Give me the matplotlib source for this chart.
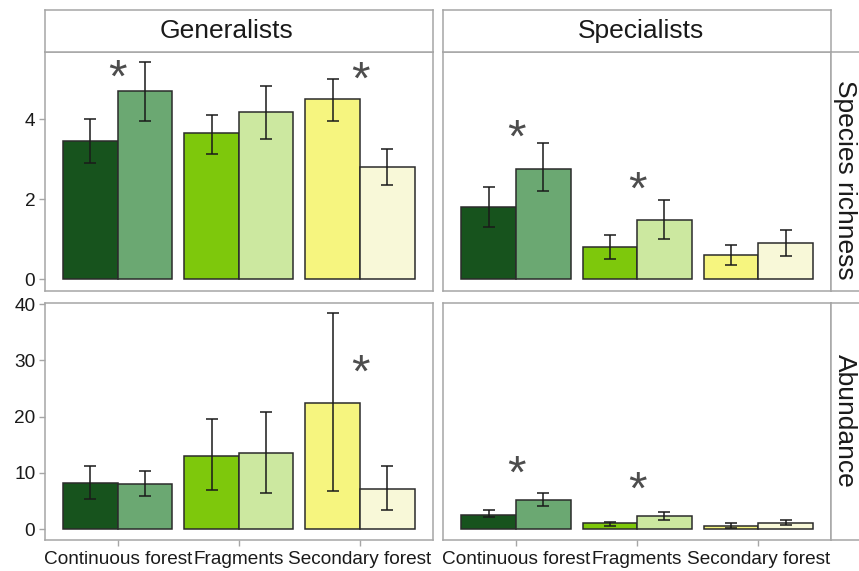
import matplotlib.pyplot as plt

plt.rcParams['font.family'] = ['Liberation Sans', 'DejaVu Sans']

# --- data ---
habitats = ['Continuous forest', 'Fragments', 'Secondary forest']
groups = ['Generalists', 'Specialists']
metrics = ['Species richness', 'Abundance']

# mean, lower, upper per habitat: [dark bar, light bar]
rich_gen_mean = [[3.46, 4.70], [3.65, 4.18], [4.51, 2.82]]
rich_gen_lo = [[2.92, 3.97], [3.14, 3.50], [3.97, 2.35]]
rich_gen_hi = [[4.01, 5.43], [4.11, 4.84], [5.02, 3.25]]

rich_spe_mean = [[1.81, 2.77], [0.80, 1.48], [0.61, 0.90]]
rich_spe_lo = [[1.30, 2.20], [0.51, 1.01], [0.36, 0.58]]
rich_spe_hi = [[2.31, 3.40], [1.12, 1.99], [0.86, 1.23]]

abun_gen_mean = [[8.24, 7.95], [13.04, 13.58], [22.5, 7.12]]
abun_gen_lo = [[5.34, 5.87], [6.94, 6.40], [6.70, 3.38]]
abun_gen_hi = [[11.3, 10.27], [19.5, 20.77], [38.4, 11.27]]

abun_spe_mean = [[2.55, 5.16], [1.01, 2.31], [0.53, 1.01]]
abun_spe_lo = [[2.08, 4.09], [0.59, 1.60], [0.12, 0.77]]
abun_spe_hi = [[3.32, 6.46], [1.25, 3.08], [1.07, 1.55]]

# significance stars: (habitat index, y)
stars_rich_gen = [(0, 5.2), (2, 5.14)]
stars_rich_spe = [(0, 3.71), (1, 2.4)]
stars_abun_gen = [(2, 28.95)]
stars_abun_spe = [(0, 10.9), (1, 8.1)]

colors = [['#17531d', '#6ba872'], ['#7ec80c', '#cce8a0'], ['#f6f57f', '#f8f8d8']]

panels = {
    (0, 0): (rich_gen_mean, rich_gen_lo, rich_gen_hi, stars_rich_gen),
    (0, 1): (rich_spe_mean, rich_spe_lo, rich_spe_hi, stars_rich_spe),
    (1, 0): (abun_gen_mean, abun_gen_lo, abun_gen_hi, stars_abun_gen),
    (1, 1): (abun_spe_mean, abun_spe_lo, abun_spe_hi, stars_abun_spe),
}

ylims = [(-0.29, 5.695), (-1.95, 40.27)]
yticks = [[0, 2, 4], [0, 10, 20, 30, 40]]

# --- layout in pixels ---
W, H = 859, 571
def box(l, t, r, b):
    return [l / W, 1 - b / H, (r - l) / W, (b - t) / H]

cols_x = [(45, 432.7), (443.3, 831)]
rows_y = [(51.7, 291), (302.7, 540)]
border = '#a6a6a6'

fig = plt.figure(figsize=(W / 100, H / 100), dpi=100)

for (r, c), (means, los, his, stars) in panels.items():
    l, rr = cols_x[c]
    t, b = rows_y[r]
    ax = fig.add_axes(box(l, t, rr, b))
    for i in range(3):
        for j in range(2):
            x = i + 1 + (j - 0.5) * 0.45
            m = means[i][j]
            ax.bar(x, m, width=0.45, color=colors[i][j], edgecolor='#2b2b2b',
                   linewidth=1.1, zorder=2)
            ax.errorbar(x, m, yerr=[[m - los[i][j]], [his[i][j] - m]], fmt='none',
                        ecolor='#1a1a1a', elinewidth=1.1, capsize=4.3,
                        capthick=1.1, zorder=3)
    fs = 34
    for i, y in stars:
        ax.annotate('*', (i + 1, y), xytext=(0, -0.43 * fs), textcoords='offset points',
                    ha='center', va='baseline', fontsize=fs, color='#4d4d4d')
    ax.set_xlim(0.4, 3.6)
    ax.set_ylim(*ylims[r])
    for s in ax.spines.values():
        s.set_color(border)
        s.set_linewidth(1.1)
    ax.tick_params(colors=border, length=4, width=1.0, labelcolor='#1a1a1a',
                   labelsize=13.7, pad=3)
    ax.tick_params(axis='x', pad=4)
    ax.set_xticks([1, 2, 3])
    ax.set_yticks(yticks[r])
    if r == 1:
        ax.set_xticklabels(habitats)
    else:
        ax.tick_params(axis='x', length=0, labelbottom=False)
    if c == 1:
        ax.tick_params(axis='y', length=0, labelleft=False)

    # top strips
    if r == 0:
        sa = fig.add_axes(box(l, 9.5, rr, 51.7))
        sa.set_xticks([])
        sa.set_yticks([])
        for s in sa.spines.values():
            s.set_color(border)
            s.set_linewidth(1.1)
        tx = 0.467 if c == 0 else 0.51
        sa.text(tx, 0.5, groups[c], ha='center', va='center', fontsize=19,
                color='#1a1a1a', transform=sa.transAxes)
    # right strips
    if c == 1:
        sa = fig.add_axes(box(831, t, 873, b))
        sa.set_xticks([])
        sa.set_yticks([])
        for s in sa.spines.values():
            s.set_color(border)
            s.set_linewidth(1.1)
        ty = 180 if r == 0 else (t + b) / 2
        fig.text(845 / W, 1 - ty / H, metrics[r], ha='center', va='center',
                 fontsize=19, rotation=270, color='#1a1a1a')

fig.savefig('out.png', dpi=100)
